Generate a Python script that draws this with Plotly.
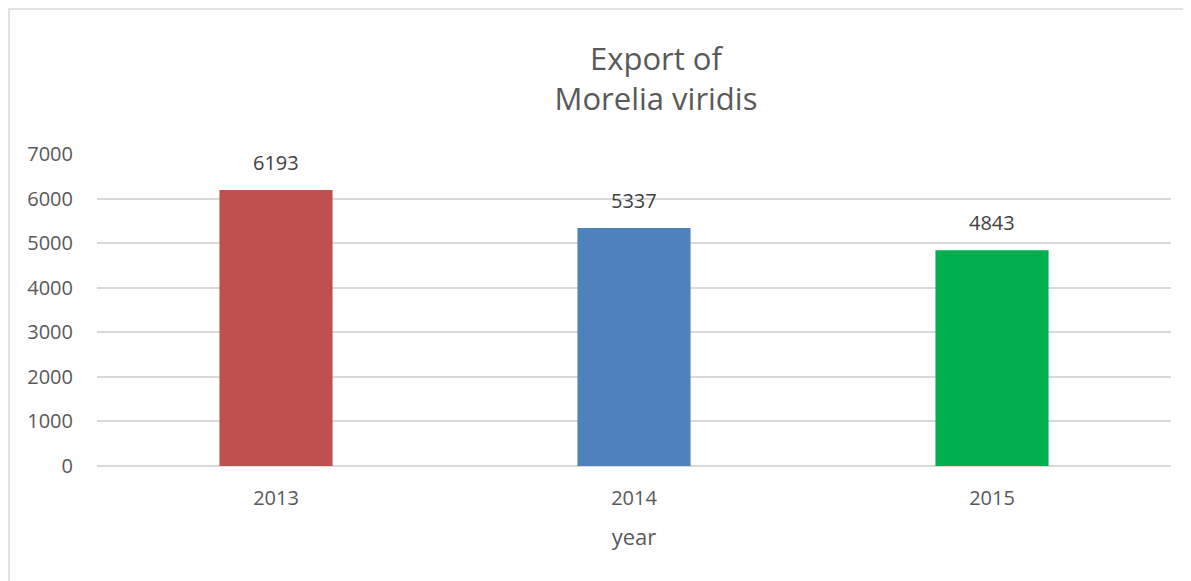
import plotly.graph_objects as go

years = ["2013", "2014", "2015"]
exports = [6193, 5337, 4843]
bar_colors = ["#C0504D", "#4F81BD", "#00B050"]
y_ticks = [0, 1000, 2000, 3000, 4000, 5000, 6000, 7000]

# page body has an 8px margin; compensate so the chart sits where the reference does
OFF = 8
W, H = 1191, 581
ml, mr, mt, mb = 97 - OFF, 20 + OFF, 154 - OFF, 115 + OFF
pw = W - ml - mr
ph = H - mt - mb

fig = go.Figure(go.Bar(
    x=years, y=exports,
    marker=dict(color=bar_colors, line=dict(width=0)),
    width=0.316,
    hoverinfo="x+y",
))

# data labels (category axis: annotation x given as category index)
for i, v in enumerate(exports):
    fig.add_annotation(
        x=i, y=v, xref="x", yref="y", text=str(v),
        showarrow=False, yanchor="bottom", yshift=12,
        font=dict(family="Open Sans", size=20, color="#404040"),
    )

fig.update_layout(
    width=W, height=H,
    margin=dict(l=ml, r=mr, t=mt, b=mb),
    paper_bgcolor="white", plot_bgcolor="white",
    font=dict(family="Open Sans", color="#595959"),
    showlegend=False,
    title=dict(
        text="Export of<br>Morelia viridis",
        x=(656 - OFF) / W, xanchor="center", xref="container",
        y=1 - 62 / H, yanchor="top", yref="container",
        font=dict(family="Open Sans", size=31, color="#595959"),
    ),
    xaxis=dict(
        type="category", range=[-0.5, len(years) - 0.5],
        title=dict(text="year", font=dict(size=22, color="#595959"), standoff=19),
        tickfont=dict(size=20, color="#595959"),
        showgrid=False, showline=False, ticks="",
        ticklabelstandoff=18,
    ),
    yaxis=dict(
        range=[0, 7000], tickvals=y_ticks,
        tickfont=dict(size=20, color="#595959"),
        showgrid=True, gridcolor="#D9D9D9", gridwidth=1.5,
        zeroline=True, zerolinecolor="#D9D9D9", zerolinewidth=1.5,
        showline=False, ticks="", ticklabelstandoff=23,
    ),
    shapes=[dict(
        type="rect", xref="paper", yref="paper",
        x0=(9 - OFF - ml) / pw, x1=(W + 20 - ml) / pw,
        y0=(H - mb - (H + 20)) / ph, y1=(H - mb - (9 - OFF)) / ph,
        line=dict(color="#D9D9D9", width=1.5), fillcolor="rgba(0,0,0,0)",
        layer="below",
    )],
)

fig.write_html("out.html")
